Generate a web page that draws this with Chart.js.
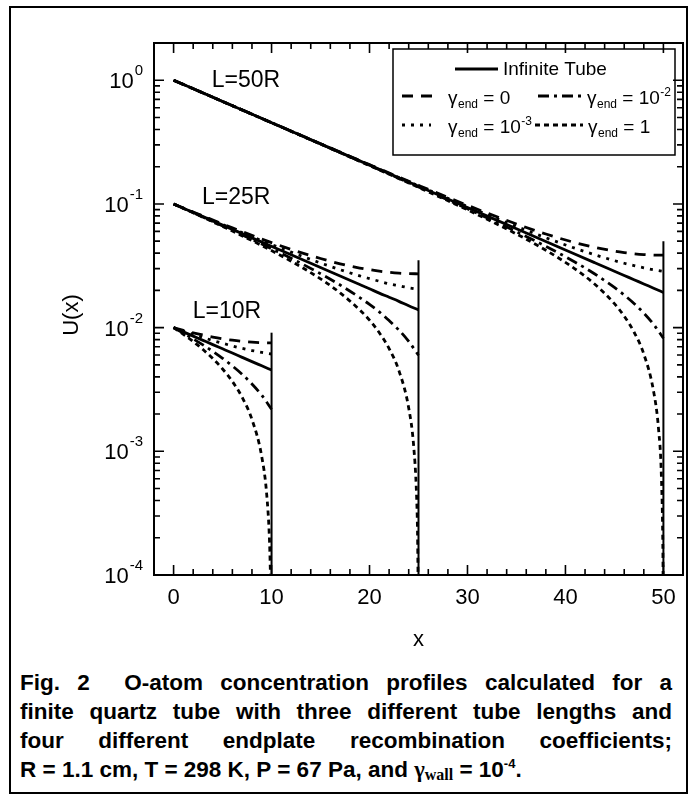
<!DOCTYPE html>
<html>
<head>
<meta charset="utf-8">
<script src="https://cdn.jsdelivr.net/npm/chart.js@4.4.0/dist/chart.umd.min.js"></script>
<style>
  html, body { margin: 0; padding: 0; background: #fff; }
  body { width: 697px; height: 800px; position: relative; overflow: hidden; font-family: "Liberation Sans", Arial, sans-serif; }
  #frame { position: absolute; left: 9px; top: 6px; width: 679px; height: 788px; border: 2px solid #000; box-sizing: border-box; }
  #chart { position: absolute; left: 0; top: 0; }
  #caption { position: absolute; left: 20px; top: 668px; width: 652px; font-weight: bold; font-size: 22.5px; line-height: 29px; color: #000; }
  #caption div { text-align: justify; text-align-last: justify; }
  #caption div.last { text-align: left; text-align-last: left; }
  .g { font-family: "Liberation Serif", "Times New Roman", serif; }
  sub { font-size: 16px; vertical-align: -3px; line-height: 0; }
  sup { font-size: 13px; vertical-align: 9px; line-height: 0; }
</style>
</head>
<body>
<div id="frame"></div>
<canvas id="chart" width="697" height="660"></canvas>
<div id="caption">
  <div>Fig. 2&nbsp; O-atom concentration profiles calculated for a</div>
  <div>finite quartz tube with three different tube lengths and</div>
  <div>four different endplate recombination coefficients;</div>
  <div class="last">R = 1.1 cm, T = 298 K, P = 67 Pa, and <span class="g">γ<sub>wall</sub></span> = 10<sup>-4</sup>.</div>
</div>
<script>
// L = 50R
const x50 = [0, 5, 10, 15, 20, 25, 30, 35, 38, 41, 43, 45, 46, 47, 48, 49, 50];
const inf50 = [1, 0.6737, 0.4538, 0.3057, 0.2060, 0.1388, 0.0935, 0.0630, 0.0497, 0.0392, 0.03347, 0.02858, 0.02641, 0.0244, 0.02255, 0.02083, 0.01925];
const g0_50 = [1, 0.674, 0.4546, 0.3068, 0.2077, 0.1414, 0.0974, 0.0688, 0.0571, 0.0486, 0.04453, 0.04153, 0.04043, 0.03958, 0.03897, 0.03861, 0.03849];
const g3_50 = [1, 0.6737, 0.4541, 0.3062, 0.2067, 0.1400, 0.09535, 0.06578, 0.05326, 0.04374, 0.03879, 0.03481, 0.03315, 0.03171, 0.03045, 0.02939, 0.02851];
const g2_50 = [1, 0.6737, 0.4534, 0.3052, 0.2050, 0.1373, 0.09125, 0.05963, 0.04542, 0.03378, 0.02712, 0.02114, 0.01835, 0.01568, 0.01311, 0.01062, 0.0082];
const x50_g1 = [0, 5, 10, 15, 20, 25, 30, 35, 38, 41, 43, 45, 46, 47, 48, 49, 49.5, 49.8, 49.95, 49.97];
const g1_50 = [1, 0.6733, 0.4530, 0.3047, 0.2042, 0.1361, 0.08956, 0.05713, 0.04224, 0.02976, 0.0224, 0.01562, 0.01237, 0.009214, 0.006113, 0.003047, 0.001522, 0.000609, 0.000152, 0.0000913];

// L = 25R
const x25 = [0, 3, 6, 9, 12, 15, 17, 19, 20, 21, 22, 23, 24, 25];
const inf25 = [0.1, 0.0789, 0.0623, 0.0491, 0.0388, 0.0306, 0.0261, 0.0223, 0.0206, 0.0190, 0.0176, 0.0163, 0.0150, 0.0139];
const g0_25 = [0.1, 0.0798, 0.0641, 0.0520, 0.0429, 0.0362, 0.0328, 0.0303, 0.0294, 0.0286, 0.0280, 0.02757, 0.02731, 0.02723];
const g3_25 = [0.1, 0.0793, 0.0632, 0.0505, 0.0408, 0.0333, 0.0294, 0.0262, 0.0249, 0.0237, 0.0226, 0.0218, 0.0210, 0.0204];
const g2_25 = [0.1, 0.0783, 0.0611, 0.0474, 0.0363, 0.0273, 0.0221, 0.0175, 0.0154, 0.0134, 0.0114, 0.00955, 0.00774, 0.00597];
const x25_g1 = [0, 3, 6, 9, 12, 15, 17, 19, 20, 21, 22, 23, 24, 24.5, 24.8, 24.9, 24.96];
const g1_25 = [0.1, 0.0780, 0.0603, 0.0461, 0.0344, 0.0248, 0.0191, 0.0139, 0.0115, 0.00909, 0.00677, 0.00449, 0.00224, 0.00112, 0.000447, 0.000224, 0.0000894];

// L = 10R
const x10 = [0, 1, 2, 3, 4, 5, 6, 7, 8, 9, 10];
const inf10 = [0.01, 0.00924, 0.00854, 0.00789, 0.00729, 0.00674, 0.00623, 0.00575, 0.00531, 0.00491, 0.00454];
const g0_10 = [0.01, 0.00951, 0.00908, 0.00871, 0.00839, 0.00812, 0.00791, 0.00774, 0.00762, 0.00755, 0.00753];
const g3_10 = [0.01, 0.00938, 0.00883, 0.00832, 0.00787, 0.00747, 0.00711, 0.00680, 0.00653, 0.00631, 0.00612];
const g2_10 = [0.01, 0.00903, 0.00811, 0.00725, 0.00643, 0.00565, 0.00490, 0.00419, 0.00350, 0.00284, 0.00219];
const x10_g1 = [0, 1, 2, 3, 4, 5, 6, 7, 8, 9, 9.5, 9.8, 9.9];
const g1_10 = [0.01, 0.00883, 0.00772, 0.00665, 0.00562, 0.00463, 0.00367, 0.00273, 0.00181, 0.000904, 0.000452, 0.000181, 0.0000903];

// end plates
const plateX = [10, 25, 50];
const plateTop = [0.0091, 0.035, 0.050];

// text
const tubeLabels = ['L=50R', 'L=25R', 'L=10R'];
const tubeLabelX = [3.9, 2.9, 1.95];
const tubeLabelY = [1.0, 0.112, 0.0134];
const xTicks = [0, 10, 20, 30, 40, 50];
const yExponents = [-4, -3, -2, -1, 0];

// line styles
const DASH = {
  inf: [],
  g0: [11, 8],
  g2: [11, 5, 3, 5],
  g3: [3, 6],
  g1: [5, 4]
};

function pts(xs, ys) {
  return xs.map((v, i) => ({ x: v, y: ys[i] }));
}

function line(data, dash) {
  return { data: data, borderDash: dash, borderColor: '#000', borderWidth: 2.8, pointRadius: 0, fill: false, cubicInterpolationMode: 'monotone' };
}

const datasets = [
  line(pts(x50, inf50), DASH.inf),
  line(pts(x50, g0_50), DASH.g0),
  line(pts(x50, g3_50), DASH.g3),
  line(pts(x50, g2_50), DASH.g2),
  line(pts(x50_g1, g1_50), DASH.g1),
  line(pts(x25, inf25), DASH.inf),
  line(pts(x25, g0_25), DASH.g0),
  line(pts(x25, g3_25), DASH.g3),
  line(pts(x25, g2_25), DASH.g2),
  line(pts(x25_g1, g1_25), DASH.g1),
  line(pts(x10, inf10), DASH.inf),
  line(pts(x10, g0_10), DASH.g0),
  line(pts(x10, g3_10), DASH.g3),
  line(pts(x10, g2_10), DASH.g2),
  line(pts(x10_g1, g1_10), DASH.g1)
];
plateX.forEach((px, i) => {
  datasets.push({ data: pts([px, px], [1e-4, plateTop[i]]), borderColor: '#000', borderWidth: 2, pointRadius: 0, tension: 0 });
});

const FONT = '"Liberation Sans", Arial, sans-serif';

function gammaLabel(ctx, x0, cy, tail, sup) {
  const base = cy + 7;
  ctx.textAlign = 'left';
  ctx.textBaseline = 'alphabetic';
  ctx.font = '19px ' + FONT;
  ctx.fillText('γ', x0, base);
  let x = x0 + ctx.measureText('γ').width + 0.5;
  ctx.font = '12px ' + FONT;
  ctx.fillText('end', x, base + 4);
  x += ctx.measureText('end').width;
  ctx.font = '19px ' + FONT;
  ctx.fillText(' = ' + tail, x, base);
  x += ctx.measureText(' = ' + tail).width + 0.5;
  if (sup) {
    ctx.font = '12px ' + FONT;
    ctx.fillText(sup, x, base - 8);
  }
}

function sample(ctx, x1, x2, y, dash) {
  ctx.beginPath();
  ctx.setLineDash(dash);
  ctx.lineWidth = 2.8;
  ctx.moveTo(x1, y);
  ctx.lineTo(x2, y);
  ctx.stroke();
  ctx.setLineDash([]);
}

const decor = {
  id: 'decor',
  afterDraw(chart) {
    const { ctx, chartArea: a, scales: { x, y } } = chart;
    ctx.save();
    ctx.strokeStyle = '#000';
    ctx.fillStyle = '#000';

    // box
    ctx.lineWidth = 2;
    ctx.strokeRect(a.left, a.top, a.right - a.left, a.bottom - a.top);

    // ticks (inward, mirrored)
    ctx.lineWidth = 1.6;
    ctx.beginPath();
    for (let v = 0; v <= 50; v += 2) {
      const px = x.getPixelForValue(v);
      const len = v % 10 === 0 ? 10 : 6;
      ctx.moveTo(px, a.bottom); ctx.lineTo(px, a.bottom - len);
      ctx.moveTo(px, a.top); ctx.lineTo(px, a.top + len);
    }
    yExponents.forEach(e => {
      for (let m = 1; m <= 9; m++) {
        const v = m * Math.pow(10, e);
        if (v > y.max * 1.0001) break;
        const py = y.getPixelForValue(v);
        const len = m === 1 ? 10 : 6;
        ctx.moveTo(a.left, py); ctx.lineTo(a.left + len, py);
        ctx.moveTo(a.right, py); ctx.lineTo(a.right - len, py);
      }
    });
    ctx.stroke();

    // x tick labels
    ctx.font = '22px ' + FONT;
    ctx.textAlign = 'center';
    ctx.textBaseline = 'middle';
    xTicks.forEach(v => ctx.fillText(String(v), x.getPixelForValue(v), 598));

    // y tick labels 10^n
    yExponents.forEach(e => {
      const py = y.getPixelForValue(Math.pow(10, e));
      const right = a.left - 11;
      ctx.textBaseline = 'alphabetic';
      ctx.textAlign = 'right';
      ctx.font = '15px ' + FONT;
      const s = String(e);
      const sw = ctx.measureText(s).width;
      ctx.fillText(s, right, py - 5);
      ctx.font = '22px ' + FONT;
      ctx.fillText('10', right - sw - 1, py + 8);
    });

    // axis titles
    ctx.font = '22px ' + FONT;
    ctx.textAlign = 'center';
    ctx.textBaseline = 'middle';
    ctx.fillText('x', (a.left + a.right) / 2, 640);
    ctx.save();
    ctx.translate(72, 315);
    ctx.rotate(-Math.PI / 2);
    ctx.fillText('U(x)', 0, 0);
    ctx.restore();

    // tube length labels
    ctx.font = '23px ' + FONT;
    ctx.textAlign = 'left';
    ctx.textBaseline = 'middle';
    tubeLabels.forEach((t, i) => {
      ctx.fillText(t, x.getPixelForValue(tubeLabelX[i]), y.getPixelForValue(tubeLabelY[i]));
    });

    // legend
    ctx.lineWidth = 1.5;
    ctx.strokeRect(393, 49, 282, 106);
    sample(ctx, 455, 498, 69, DASH.inf);
    ctx.font = '19px ' + FONT;
    ctx.textAlign = 'left';
    ctx.textBaseline = 'middle';
    ctx.fillText('Infinite Tube', 503, 70);
    sample(ctx, 402, 438, 96, DASH.g0);
    gammaLabel(ctx, 448, 97, '0', null);
    sample(ctx, 538, 583, 96, DASH.g2);
    gammaLabel(ctx, 587, 97, '10', '-2');
    sample(ctx, 402, 431, 125, DASH.g3);
    gammaLabel(ctx, 448, 126, '10', '-3');
    sample(ctx, 535, 583, 125, DASH.g1);
    gammaLabel(ctx, 588, 126, '1', null);

    ctx.restore();
  }
};

new Chart(document.getElementById('chart'), {
  type: 'line',
  data: { datasets: datasets },
  options: {
    responsive: false,
    animation: false,
    layout: { padding: { left: 154, top: 43, right: 14, bottom: 85 } },
    plugins: { legend: { display: false }, tooltip: { enabled: false } },
    scales: {
      x: { type: 'linear', min: -2, max: 52, display: false },
      y: { type: 'logarithmic', min: 1e-4, max: 2, display: false }
    }
  },
  plugins: [decor]
});
</script>
</body>
</html>
